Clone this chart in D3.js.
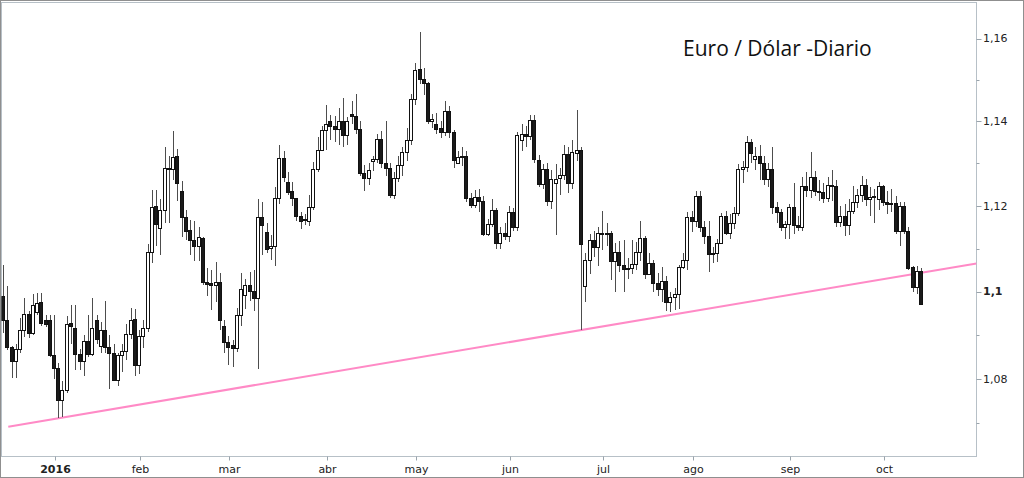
<!DOCTYPE html>
<html>
<head>
<meta charset="utf-8">
<script src="https://cdn.jsdelivr.net/npm/d3@7"></script>
<style>
  body { margin: 0; background: #fff; }
  svg { display: block; }
  .tick-label { font-family: 'DejaVu Sans', Verdana, sans-serif; font-size: 11px; fill: #222; }
  .title { font-family: 'Open Sans', sans-serif; font-size: 21px; fill: #111; }
</style>
</head>
<body>
<svg id="chart" width="1024" height="478"></svg>
<script>
// trading days, one entry per candle
const dates = [
  '2015-12-15','2015-12-16','2015-12-17','2015-12-18','2015-12-21','2015-12-22','2015-12-23','2015-12-24','2015-12-28','2015-12-29','2015-12-30','2015-12-31',
  '2016-01-04','2016-01-05','2016-01-06','2016-01-07','2016-01-08','2016-01-11','2016-01-12','2016-01-13','2016-01-14','2016-01-15','2016-01-18','2016-01-19','2016-01-20','2016-01-21','2016-01-22','2016-01-25','2016-01-26','2016-01-27','2016-01-28','2016-01-29',
  '2016-02-01','2016-02-02','2016-02-03','2016-02-04','2016-02-05','2016-02-08','2016-02-09','2016-02-10','2016-02-11','2016-02-12','2016-02-15','2016-02-16','2016-02-17','2016-02-18','2016-02-19','2016-02-22','2016-02-23','2016-02-24','2016-02-25','2016-02-26','2016-02-29',
  '2016-03-01','2016-03-02','2016-03-03','2016-03-04','2016-03-07','2016-03-08','2016-03-09','2016-03-10','2016-03-11','2016-03-14','2016-03-15','2016-03-16','2016-03-17','2016-03-18','2016-03-21','2016-03-22','2016-03-23','2016-03-24','2016-03-25','2016-03-28','2016-03-29','2016-03-30','2016-03-31',
  '2016-04-01','2016-04-04','2016-04-05','2016-04-06','2016-04-07','2016-04-08','2016-04-11','2016-04-12','2016-04-13','2016-04-14','2016-04-15','2016-04-18','2016-04-19','2016-04-20','2016-04-21','2016-04-22','2016-04-25','2016-04-26','2016-04-27','2016-04-28','2016-04-29',
  '2016-05-02','2016-05-03','2016-05-04','2016-05-05','2016-05-06','2016-05-09','2016-05-10','2016-05-11','2016-05-12','2016-05-13','2016-05-16','2016-05-17','2016-05-18','2016-05-19','2016-05-20','2016-05-23','2016-05-24','2016-05-25','2016-05-26','2016-05-27','2016-05-30','2016-05-31',
  '2016-06-01','2016-06-02','2016-06-03','2016-06-06','2016-06-07','2016-06-08','2016-06-09','2016-06-10','2016-06-13','2016-06-14','2016-06-15','2016-06-16','2016-06-17','2016-06-20','2016-06-21','2016-06-22','2016-06-23','2016-06-24','2016-06-27','2016-06-28','2016-06-29','2016-06-30',
  '2016-07-01','2016-07-04','2016-07-05','2016-07-06','2016-07-07','2016-07-08','2016-07-11','2016-07-12','2016-07-13','2016-07-14','2016-07-15','2016-07-18','2016-07-19','2016-07-20','2016-07-21','2016-07-22','2016-07-25','2016-07-26','2016-07-27','2016-07-28','2016-07-29',
  '2016-08-01','2016-08-02','2016-08-03','2016-08-04','2016-08-05','2016-08-08','2016-08-09','2016-08-10','2016-08-11','2016-08-12','2016-08-15','2016-08-16','2016-08-17','2016-08-18','2016-08-19','2016-08-22','2016-08-23','2016-08-24','2016-08-25','2016-08-26','2016-08-29','2016-08-30','2016-08-31',
  '2016-09-01','2016-09-02','2016-09-05','2016-09-06','2016-09-07','2016-09-08','2016-09-09','2016-09-12','2016-09-13','2016-09-14','2016-09-15','2016-09-16','2016-09-19','2016-09-20','2016-09-21','2016-09-22','2016-09-23','2016-09-26','2016-09-27','2016-09-28','2016-09-29','2016-09-30',
  '2016-10-03','2016-10-04','2016-10-05','2016-10-06','2016-10-07','2016-10-10','2016-10-11','2016-10-12','2016-10-13','2016-10-14'
];

const open = [
  1.0991,1.0934,1.0874,1.0841,1.0868,1.0912,1.0949,1.0906,1.0954,1.0975,1.0934,1.0934,
  1.0855,1.0824,1.0752,1.0775,1.0928,1.0916,1.0856,1.0842,1.0887,1.0858,1.0934,1.0876,1.0912,1.0874,1.0860,1.0797,1.0855,1.0864,1.0903,1.0937,
  1.0831,1.0897,1.0917,1.1093,1.1199,1.1147,1.1189,1.1289,1.1286,1.1317,1.1236,1.1174,1.1143,1.1120,1.1106,1.1124,1.1023,1.1020,1.1015,1.1022,1.0920,
  1.0885,1.0877,1.0870,1.0947,1.0993,1.1016,1.1001,1.0986,1.1174,1.1139,1.1102,1.1107,1.1218,1.1314,1.1256,1.1234,1.1219,1.1175,1.1168,1.1165,1.1198,1.1288,1.1332,
  1.1380,1.1402,1.1388,1.1382,1.1400,1.1368,1.1418,1.1412,1.1382,1.1278,1.1265,1.1306,1.1310,1.1358,1.1302,1.1289,1.1226,1.1265,1.1297,1.1326,1.1356,
  1.1453,1.1526,1.1502,1.1492,1.1400,1.1394,1.1384,1.1374,1.1424,1.1374,1.1302,1.1315,1.1317,1.1218,1.1203,1.1221,1.1212,1.1135,1.1157,1.1191,1.1112,1.1137,
  1.1130,1.1185,1.1151,1.1355,1.1369,1.1365,1.1404,1.1308,1.1252,1.1288,1.1211,1.1253,1.1265,1.1273,1.1322,1.1254,1.1325,1.1331,1.1014,1.1073,1.1121,1.1103,
  1.1136,1.1137,1.1136,1.1072,1.1093,1.1062,1.1052,1.1054,1.1063,1.1092,1.1124,1.1040,1.1066,1.1021,1.1006,1.1025,1.0977,1.0988,1.0995,1.1056,1.1074,
  1.1174,1.1164,1.1223,1.1150,1.1130,1.1087,1.1089,1.1113,1.1177,1.1137,1.1160,1.1183,1.1286,1.1292,1.1350,1.1310,1.1318,1.1302,1.1262,1.1287,1.1197,1.1185,1.1150,
  1.1158,1.1197,1.1155,1.1150,1.1246,1.1238,1.1269,1.1235,1.1232,1.1218,1.1250,1.1247,1.1161,1.1177,1.1155,1.1188,1.1208,1.1226,1.1250,1.1215,1.1220,1.1215,
  1.1246,1.1210,1.1205,1.1207,1.1140,1.1200,1.1140,1.1056,1.1010,1.1047
];

const high = [
  1.1062,1.1014,1.0876,1.0880,1.0940,1.0986,1.0955,1.0995,1.0998,1.0998,1.0947,1.0947,
  1.0947,1.0837,1.0795,1.0944,1.0970,1.0970,1.0868,1.0900,1.0947,1.0986,1.0946,1.0930,1.0978,1.0900,1.0880,1.0860,1.0880,1.0925,1.0963,1.0960,
  1.0912,1.0935,1.1110,1.1238,1.1237,1.1217,1.1340,1.1318,1.1378,1.1334,1.1259,1.1190,1.1166,1.1164,1.1150,1.1127,1.1055,1.1050,1.1068,1.1044,1.0935,
  1.0897,1.0890,1.0962,1.1044,1.1030,1.1045,1.1050,1.1217,1.1210,1.1160,1.1132,1.1245,1.1343,1.1330,1.1280,1.1256,1.1219,1.1185,1.1180,1.1225,1.1304,1.1364,1.1390,
  1.1440,1.1416,1.1412,1.1432,1.1456,1.1410,1.1448,1.1465,1.1400,1.1297,1.1300,1.1318,1.1370,1.1378,1.1400,1.1300,1.1280,1.1318,1.1340,1.1385,1.1465,
  1.1540,1.1616,1.1528,1.1495,1.1418,1.1420,1.1400,1.1448,1.1437,1.1380,1.1330,1.1340,1.1330,1.1230,1.1238,1.1240,1.1222,1.1170,1.1215,1.1195,1.1150,1.1160,
  1.1200,1.1195,1.1375,1.1395,1.1390,1.1415,1.1415,1.1320,1.1298,1.1300,1.1285,1.1298,1.1290,1.1345,1.1340,1.1355,1.1428,1.1340,1.1090,1.1135,1.1140,1.1150,
  1.1187,1.1159,1.1140,1.1112,1.1118,1.1120,1.1078,1.1120,1.1115,1.1165,1.1130,1.1089,1.1074,1.1043,1.1058,1.1036,1.0999,1.1009,1.1062,1.1090,1.1185,
  1.1188,1.1234,1.1236,1.1164,1.1165,1.1104,1.1123,1.1184,1.1187,1.1180,1.1196,1.1298,1.1306,1.1366,1.1359,1.1340,1.1345,1.1318,1.1300,1.1340,1.1210,1.1192,1.1165,
  1.1205,1.1254,1.1175,1.1267,1.1280,1.1327,1.1283,1.1260,1.1254,1.1267,1.1284,1.1260,1.1200,1.1205,1.1215,1.1247,1.1240,1.1270,1.1262,1.1245,1.1240,1.1255,
  1.1250,1.1236,1.1240,1.1222,1.1210,1.1210,1.1150,1.1060,1.1060,1.1055
];

const low = [
  1.0905,1.0866,1.0802,1.0802,1.0860,1.0896,1.0893,1.0900,1.0947,1.0920,1.0918,1.0849,
  1.0801,1.0712,1.0715,1.0768,1.0880,1.0820,1.0820,1.0806,1.0850,1.0852,1.0880,1.0860,1.0860,1.0778,1.0795,1.0785,1.0815,1.0843,1.0892,1.0808,
  1.0812,1.0870,1.0908,1.1067,1.1106,1.1085,1.1160,1.1160,1.1261,1.1212,1.1127,1.1120,1.1085,1.1072,1.1072,1.1015,1.0990,1.0958,1.0975,1.0912,1.0860,
  1.0831,1.0828,1.0862,1.0920,1.0960,1.0978,1.0955,1.0822,1.1085,1.1090,1.1073,1.1060,1.1205,1.1255,1.1225,1.1200,1.1165,1.1145,1.1155,1.1153,1.1190,1.1280,1.1330,
  1.1332,1.1356,1.1350,1.1345,1.1340,1.1345,1.1395,1.1370,1.1270,1.1234,1.1250,1.1282,1.1300,1.1290,1.1270,1.1218,1.1215,1.1255,1.1270,1.1305,1.1345,
  1.1440,1.1490,1.1463,1.1395,1.1384,1.1370,1.1360,1.1365,1.1360,1.1290,1.1300,1.1295,1.1210,1.1195,1.1195,1.1185,1.1130,1.1130,1.1150,1.1100,1.1100,1.1120,
  1.1115,1.1140,1.1140,1.1330,1.1340,1.1355,1.1300,1.1245,1.1240,1.1200,1.1193,1.1131,1.1225,1.1260,1.1230,1.1240,1.1305,1.0912,1.0975,1.1040,1.1080,1.1060,
  1.1096,1.1105,1.1028,1.1000,1.1045,1.1000,1.1030,1.1040,1.1050,1.1070,1.1030,1.1040,1.1000,1.0990,1.0977,1.0955,1.0952,1.0958,1.0961,1.1052,1.1050,
  1.1139,1.1151,1.1138,1.1110,1.1045,1.1066,1.1068,1.1110,1.1131,1.1122,1.1145,1.1176,1.1254,1.1280,1.1302,1.1285,1.1260,1.1250,1.1245,1.1180,1.1160,1.1140,1.1123,
  1.1123,1.1135,1.1140,1.1140,1.1220,1.1218,1.1222,1.1212,1.1207,1.1210,1.1212,1.1150,1.1150,1.1130,1.1132,1.1180,1.1195,1.1210,1.1200,1.1175,1.1160,1.1190,
  1.1200,1.1180,1.1186,1.1135,1.1105,1.1135,1.1050,1.1000,1.0995,1.0970
];

const close = [
  1.0934,1.0874,1.0841,1.0868,1.0912,1.0949,1.0906,1.0970,1.0974,1.0928,1.0926,1.0854,
  1.0824,1.0752,1.0775,1.0926,1.0922,1.0856,1.0842,1.0887,1.0858,1.0916,1.0891,1.0912,1.0874,1.0860,1.0797,1.0855,1.0864,1.0903,1.0935,1.0831,
  1.0897,1.0917,1.1093,1.1197,1.1158,1.1189,1.1289,1.1286,1.1316,1.1254,1.1174,1.1142,1.1120,1.1106,1.1127,1.1023,1.1018,1.1015,1.1022,1.0935,1.0885,
  1.0874,1.0870,1.0947,1.1005,1.1016,1.1001,1.0986,1.1174,1.1155,1.1100,1.1107,1.1218,1.1314,1.1268,1.1233,1.1218,1.1175,1.1165,1.1170,1.1198,1.1288,1.1332,1.1380,
  1.1394,1.1388,1.1382,1.1400,1.1368,1.1400,1.1412,1.1382,1.1278,1.1265,1.1284,1.1310,1.1358,1.1302,1.1289,1.1226,1.1265,1.1297,1.1326,1.1356,1.1453,
  1.1525,1.1502,1.1492,1.1400,1.1406,1.1382,1.1374,1.1424,1.1374,1.1308,1.1315,1.1317,1.1218,1.1203,1.1221,1.1212,1.1135,1.1157,1.1191,1.1112,1.1137,1.1130,
  1.1185,1.1151,1.1368,1.1369,1.1365,1.1404,1.1310,1.1252,1.1288,1.1211,1.1262,1.1262,1.1273,1.1322,1.1254,1.1327,1.1333,1.1110,1.1073,1.1120,1.1103,1.1136,
  1.1137,1.1136,1.1072,1.1093,1.1062,1.1052,1.1054,1.1063,1.1092,1.1124,1.1040,1.1066,1.1021,1.1006,1.1025,1.0977,1.0988,1.0995,1.1056,1.1074,1.1174,
  1.1164,1.1223,1.1150,1.1130,1.1087,1.1089,1.1113,1.1177,1.1137,1.1160,1.1183,1.1286,1.1292,1.1350,1.1325,1.1318,1.1302,1.1262,1.1287,1.1197,1.1185,1.1150,1.1158,
  1.1197,1.1155,1.1150,1.1246,1.1238,1.1269,1.1235,1.1232,1.1218,1.1250,1.1247,1.1161,1.1177,1.1155,1.1188,1.1208,1.1226,1.1250,1.1215,1.1220,1.1223,1.1246,
  1.1210,1.1205,1.1207,1.1140,1.1200,1.1140,1.1054,1.1010,1.1047,1.0972
];

// axis ticks
const xTickDates = ['2016-01-04','2016-02-01','2016-03-01','2016-04-01','2016-05-02','2016-06-01','2016-07-01','2016-08-01','2016-09-01','2016-10-03'];
const xTickLabels = ['2016','feb','mar','abr','may','jun','jul','ago','sep','oct'];
const yTickValues = [1.08, 1.10, 1.12, 1.14, 1.16];
const yTickLabels = ['1,08', '1,1', '1,12', '1,14', '1,16'];
const yMinorTicks = [1.07, 1.09, 1.11, 1.13, 1.15];

// support line drawn through two lows, extended to the right edge
const trendDates = ['2016-01-05', '2016-06-24'];
const trendValues = [1.0712, 1.0912];

const titleText = 'Euro / Dólar -Diario';

const svg = d3.select('#chart');
const width = +svg.attr('width');
const height = +svg.attr('height');

const plot = { left: 1.5, top: 2.5, right: 976.5, bottom: 456.5 };

// scales: one slot per trading day, log price axis
const xScale = d3.scaleLinear()
  .domain([0, dates.length - 1])
  .range([4, 922]);

const yScale = d3.scaleLog()
  .domain([1.0627, 1.1687])
  .range([456, 3]);

const cx = i => Math.round(xScale(i));

// outer frame
svg.append('rect')
  .attr('x', 0.5).attr('y', 0.5)
  .attr('width', width - 1).attr('height', height - 1)
  .attr('fill', '#fff')
  .attr('stroke', '#8f8f8f');

// plot frame
svg.append('rect')
  .attr('x', plot.left).attr('y', plot.top)
  .attr('width', plot.right - plot.left).attr('height', plot.bottom - plot.top)
  .attr('fill', 'none')
  .attr('stroke', '#b7c0c7');

svg.append('clipPath').attr('id', 'plot-clip')
  .append('rect')
    .attr('x', plot.left).attr('y', plot.top)
    .attr('width', plot.right - plot.left).attr('height', plot.bottom - plot.top);

// y axis on the right (ticks outward)
const yAxisG = svg.append('g').attr('class', 'y-axis');
yAxisG.selectAll('.major').data(yTickValues)
  .enter().append('line')
    .attr('class', 'major')
    .attr('x1', plot.right).attr('x2', plot.right + 5)
    .attr('y1', d => Math.round(yScale(d)) + 0.5)
    .attr('y2', d => Math.round(yScale(d)) + 0.5)
    .attr('stroke', '#9aa4ac');
yAxisG.selectAll('.minor').data(yMinorTicks)
  .enter().append('line')
    .attr('class', 'minor')
    .attr('x1', plot.right).attr('x2', plot.right + 3)
    .attr('y1', d => Math.round(yScale(d)) + 0.5)
    .attr('y2', d => Math.round(yScale(d)) + 0.5)
    .attr('stroke', '#9aa4ac');
yAxisG.selectAll('text').data(yTickValues)
  .enter().append('text')
    .attr('class', 'tick-label')
    .attr('x', plot.right + 6.5)
    .attr('y', d => yScale(d))
    .attr('dy', '0.35em')
    .style('font-weight', (d, i) => yTickLabels[i] === '1,1' ? 'bold' : 'normal')
    .text((d, i) => yTickLabels[i]);

// x axis month ticks
const xAxisG = svg.append('g').attr('class', 'x-axis');
const xTickIndex = xTickDates.map(d => dates.indexOf(d));
xAxisG.selectAll('line').data(xTickIndex)
  .enter().append('line')
    .attr('x1', d => cx(d) + 0.5).attr('x2', d => cx(d) + 0.5)
    .attr('y1', plot.bottom).attr('y2', plot.bottom + 4)
    .attr('stroke', '#9aa4ac');
xAxisG.selectAll('text').data(xTickIndex)
  .enter().append('text')
    .attr('class', 'tick-label')
    .attr('x', d => cx(d) + 0.5)
    .attr('y', 473)
    .attr('text-anchor', 'middle')
    .style('font-weight', (d, i) => i === 0 ? 'bold' : 'normal')
    .text((d, i) => xTickLabels[i]);

const chart = svg.append('g').attr('clip-path', 'url(#plot-clip)');

// trend line, extended from the first candles to the right border
const t0 = dates.indexOf(trendDates[0]);
const t1 = dates.indexOf(trendDates[1]);
const ty0 = yScale(trendValues[0]);
const ty1 = yScale(trendValues[1]);
const trendY = i => ty0 + (ty1 - ty0) * (i - t0) / (t1 - t0);
const trendEnd = xScale.invert(plot.right);
chart.append('line')
  .attr('x1', xScale(1)).attr('y1', trendY(1))
  .attr('x2', xScale(trendEnd)).attr('y2', trendY(trendEnd))
  .attr('stroke', '#ff8ac6')
  .attr('stroke-width', 2);

// candles
const idx = d3.range(dates.length);
const candles = chart.selectAll('.candle').data(idx)
  .enter().append('g')
    .attr('class', 'candle');

candles.append('line')
  .attr('x1', i => cx(i) - 0.5).attr('x2', i => cx(i) - 0.5)
  .attr('y1', i => Math.round(yScale(high[i])))
  .attr('y2', i => Math.round(yScale(low[i])))
  .attr('stroke', '#4d4d4d');

candles.append('rect')
  .attr('x', i => cx(i) - 2.5 + 0.5 - 0.5)
  .attr('y', i => Math.round(yScale(Math.max(open[i], close[i]))) + 0.5)
  .attr('width', 3)
  .attr('height', i => Math.max(1, Math.round(yScale(Math.min(open[i], close[i]))) - Math.round(yScale(Math.max(open[i], close[i])))))
  .attr('fill', i => close[i] < open[i] ? '#1a1a1a' : '#fff')
  .attr('stroke', '#111')
  .attr('stroke-width', 1);

// title
svg.append('text')
  .attr('class', 'title')
  .attr('x', 683)
  .attr('y', 56)
  .text(titleText);
</script>
</body>
</html>
